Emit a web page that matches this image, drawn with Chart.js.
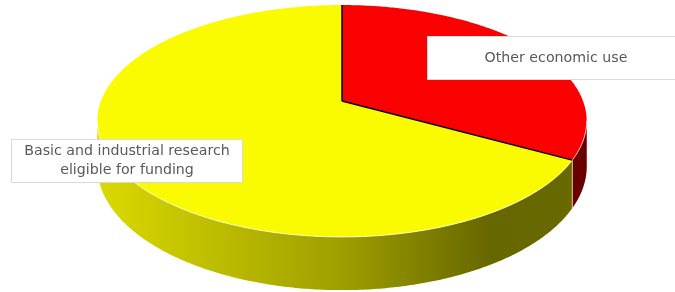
<!DOCTYPE html>
<html>
<head>
<meta charset="utf-8">
<script src="https://cdn.jsdelivr.net/npm/chart.js@4.4.1/dist/chart.umd.min.js"></script>
<style>
  html, body { margin: 0; padding: 0; background: #fff; }
  #wrap { width: 675px; height: 292px; position: relative; }
</style>
</head>
<body>
<div id="wrap"><canvas id="pieChart"></canvas></div>
<script>
// data
const labels = [["Other economic use"], ["Basic and industrial research", "eligible for funding"]];
const shares = [33, 67];
const sliceColors = ["#fa0000", "#fafa00"];

// label boxes (x, y, w, h) and text centre
const boxes = [[427, 36, 250, 44, 556], [11, 139, 232, 44, 127]];

// perspective of the tilted disc
const P = { cx: 342, cy: 101, A: 241, B: 112.5, d: -0.1724, H: 44 };

function proj(t, drop) {
    let u = Math.cos(t), v = Math.sin(t), w = 1 + P.d * v;
    return [P.cx + P.A * u / w, P.cy + (P.B * v + drop) / w];
}

function rimPath(ctx, a, b, drop, first) {
    let n = Math.max(2, Math.ceil(Math.abs(b - a) / 0.01));
    for (let i = 0; i <= n; i++) {
        let p = proj(a + (b - a) * i / n, drop);
        if (i === 0 && first) ctx.moveTo(p[0], p[1]);
        else ctx.lineTo(p[0], p[1]);
    }
}

const pie3d = {
    id: "pie3d",
    beforeDatasetsDraw(chart) {
        let ctx = chart.ctx;
        let arcs = chart.getDatasetMeta(0).data;
        let colors = chart.data.datasets[0].backgroundColor;
        let tL = Math.asin(-P.d), tR = Math.PI - tL;

        // outer walls (front half only)
        let shade = ctx.createLinearGradient(97, 0, 587, 0);
        shade.addColorStop(0, "rgba(0,0,0,0.13)");
        shade.addColorStop(0.5, "rgba(0,0,0,0.37)");
        shade.addColorStop(0.8, "rgba(0,0,0,0.59)");
        shade.addColorStop(1, "rgba(0,0,0,0.58)");
        arcs.forEach((arc, i) => {
            for (let k = -1; k <= 1; k++) {
                let a = Math.max(arc.startAngle + 2 * Math.PI * k, tL);
                let b = Math.min(arc.endAngle + 2 * Math.PI * k, tR);
                if (b <= a) continue;
                ctx.beginPath();
                rimPath(ctx, a, b, 0, true);
                rimPath(ctx, b, a, P.H, false);
                ctx.closePath();
                ctx.fillStyle = colors[i];
                ctx.fill();
                ctx.fillStyle = shade;
                ctx.fill();
                // light edge where wall starts
                if (a > tL) {
                    let p0 = proj(a, 0), p1 = proj(a, P.H);
                    ctx.beginPath();
                    ctx.moveTo(p0[0], p0[1]);
                    ctx.lineTo(p1[0], p1[1]);
                    ctx.strokeStyle = "rgba(255,255,255,0.6)";
                    ctx.lineWidth = 1;
                    ctx.stroke();
                }
            }
        });

        // top face
        let c = [P.cx, P.cy];
        arcs.forEach((arc, i) => {
            ctx.beginPath();
            ctx.moveTo(c[0], c[1]);
            rimPath(ctx, arc.startAngle, arc.endAngle, 0, false);
            ctx.closePath();
            ctx.fillStyle = colors[i];
            ctx.fill();
        });

        // rim highlight
        ctx.beginPath();
        rimPath(ctx, tL, tR, 0, true);
        ctx.strokeStyle = "rgba(255,255,255,0.75)";
        ctx.lineWidth = 1;
        ctx.stroke();

        // slice borders
        arcs.forEach(arc => {
            let p = proj(arc.startAngle, 0);
            ctx.beginPath();
            ctx.moveTo(c[0], c[1]);
            ctx.lineTo(p[0], p[1]);
            ctx.strokeStyle = "#000";
            ctx.lineWidth = 1.5;
            ctx.stroke();
        });
        return false;
    },
    afterDraw(chart) {
        let ctx = chart.ctx;
        ctx.save();
        ctx.font = "14.2px 'DejaVu Sans'";
        ctx.textAlign = "center";
        ctx.textBaseline = "middle";
        chart.data.labels.forEach((lines, i) => {
            let b = boxes[i];
            ctx.fillStyle = "#fff";
            ctx.fillRect(b[0], b[1], b[2], b[3]);
            ctx.strokeStyle = "#d9d9d9";
            ctx.lineWidth = 1;
            ctx.strokeRect(b[0] + 0.5, b[1] + 0.5, b[2] - 1, b[3] - 1);
            ctx.fillStyle = "#595959";
            let lh = 19;
            let y0 = b[1] + b[3] / 2 - (lines.length - 1) * lh / 2;
            lines.forEach((txt, j) => {
                ctx.fillText(txt, b[4], y0 + j * lh);
            });
        });
        ctx.restore();
    }
};

new Chart(document.getElementById("pieChart"), {
    type: "pie",
    data: {
        labels: labels,
        datasets: [{
            data: shares,
            backgroundColor: sliceColors,
            borderWidth: 0
        }]
    },
    options: {
        responsive: true,
        maintainAspectRatio: false,
        animation: false,
        events: [],
        plugins: {
            legend: { display: false },
            tooltip: { enabled: false }
        }
    },
    plugins: [pie3d]
});
</script>
</body>
</html>
